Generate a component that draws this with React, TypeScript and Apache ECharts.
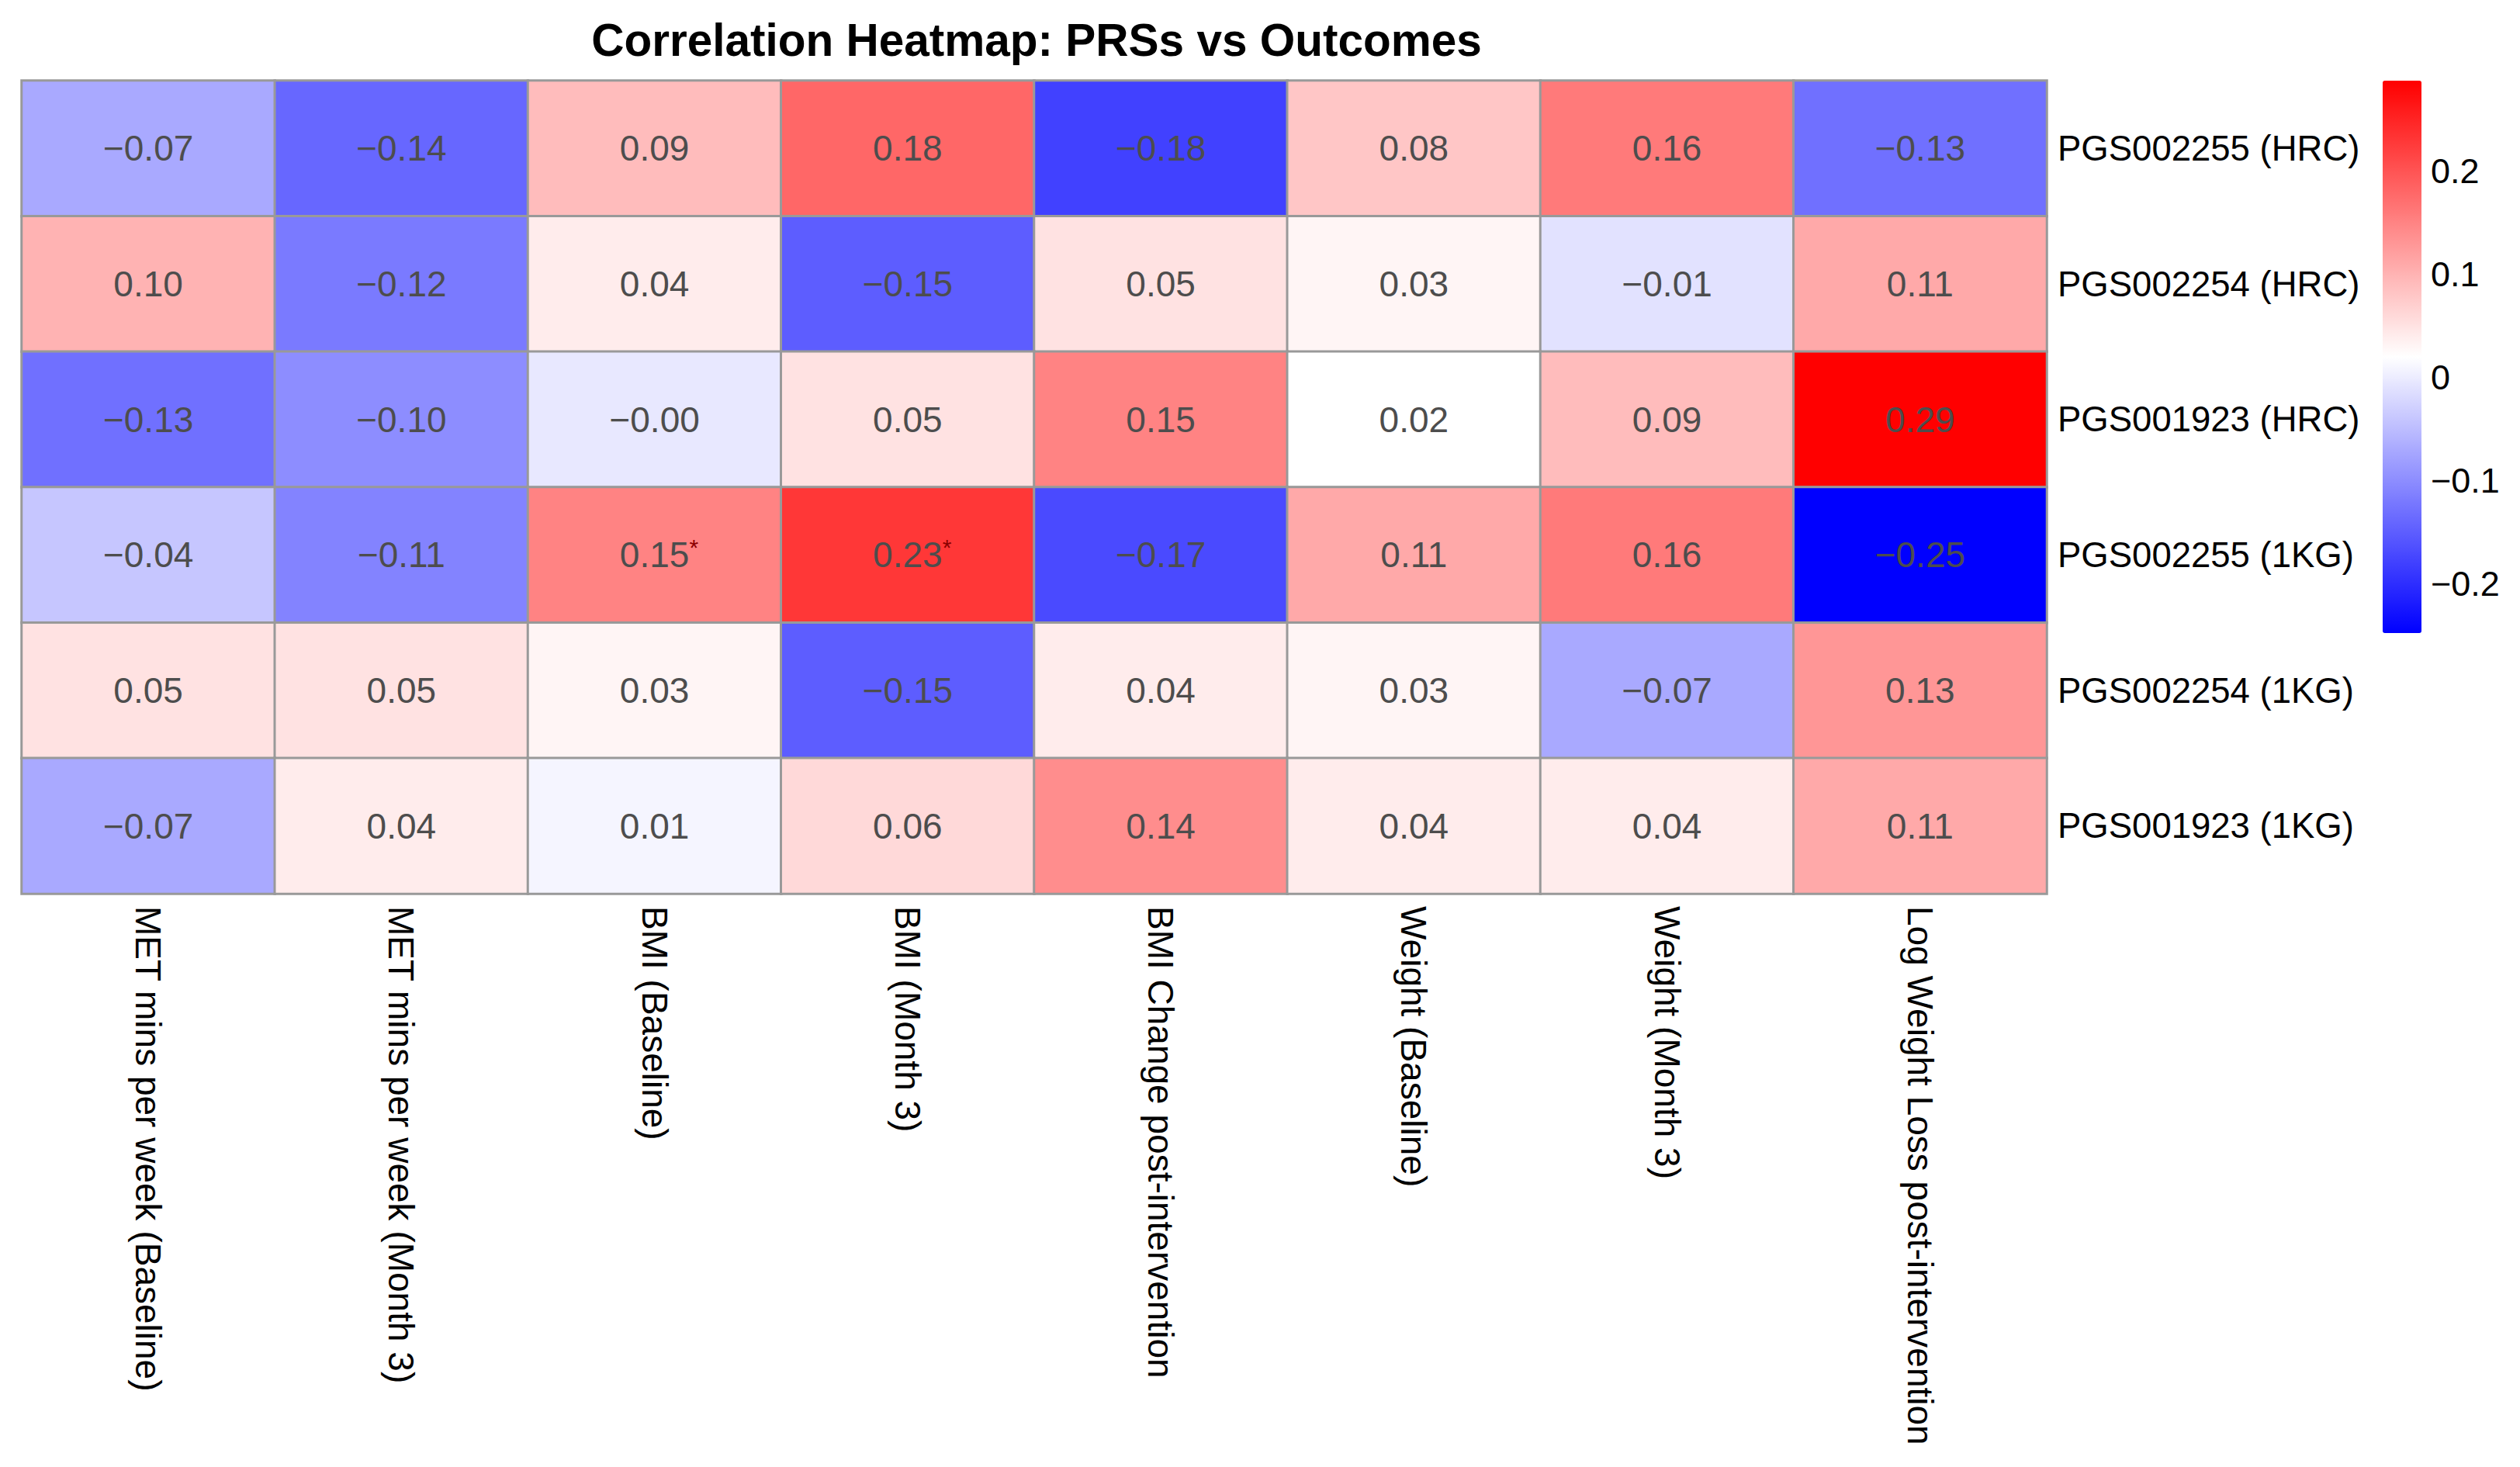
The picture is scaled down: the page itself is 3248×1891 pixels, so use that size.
import React, { useEffect, useRef } from "react";
import * as echarts from "echarts";

const outcomes = [
  "MET mins per week (Baseline)",
  "MET mins per week (Month 3)",
  "BMI (Baseline)",
  "BMI (Month 3)",
  "BMI Change post-intervention",
  "Weight (Baseline)",
  "Weight (Month 3)",
  "Log Weight Loss post-intervention",
];

const scores = [
  "PGS002255 (HRC)",
  "PGS002254 (HRC)",
  "PGS001923 (HRC)",
  "PGS002255 (1KG)",
  "PGS002254 (1KG)",
  "PGS001923 (1KG)",
];

const rowHRC2255 = [-0.07, -0.14, 0.09, 0.18, -0.18, 0.08, 0.16, -0.13];
const rowHRC2254 = [0.1, -0.12, 0.04, -0.15, 0.05, 0.03, -0.01, 0.11];
const rowHRC1923 = [-0.13, -0.1, -0.004, 0.05, 0.15, 0.02, 0.09, 0.288];
const row1KG2255 = [-0.04, -0.11, 0.15, 0.23, -0.17, 0.11, 0.16, -0.248];
const row1KG2254 = [0.05, 0.05, 0.03, -0.15, 0.04, 0.03, -0.07, 0.13];
const row1KG1923 = [-0.07, 0.04, 0.01, 0.06, 0.14, 0.04, 0.04, 0.11];

const matrix = [rowHRC2255, rowHRC2254, rowHRC1923, row1KG2255, row1KG2254, row1KG1923];

// significance markers: [rowIndex, colIndex]
const significant = [
  [3, 2],
  [3, 3],
];

const legendTicks = [-0.2, -0.1, 0, 0.1, 0.2];

const FONT = "'Liberation Sans', Arial, Helvetica, sans-serif";

const fmt = (v: number, d: number) => v.toFixed(d).replace("-", "\u2212");

export default function App() {
  const ref = useRef<HTMLDivElement>(null);

  useEffect(() => {
    if (!ref.current) return;
    const chart = echarts.init(ref.current, null, { renderer: "svg" });

    const data: any[] = [];
    matrix.forEach((row, r) => {
      row.forEach((v, c) => {
        const sig = significant.some(([sr, sc]) => sr === r && sc === c);
        data.push({ value: [c, r, v], sig });
      });
    });
    const all = matrix.flat();
    const vmin = Math.min(...all);
    const vmax = Math.max(...all);

    chart.setOption({
      animation: false,
      backgroundColor: "#ffffff",
      title: {
        text: "Correlation Heatmap: PRSs vs Outcomes",
        left: 1331,
        textAlign: "center",
        top: 17,
        textStyle: { fontFamily: FONT, fontSize: 58.5, fontWeight: "bold", color: "#000000" },
      },
      grid: [
        { left: 28, top: 104, width: 2610, height: 1048 },
        { left: 3071, top: 104, width: 50, height: 712 },
      ],
      xAxis: [
        {
          type: "category",
          data: outcomes,
          gridIndex: 0,
          position: "bottom",
          axisLine: { show: false },
          axisTick: { show: false },
          splitLine: { show: false },
          axisLabel: {
            rotate: -90,
            margin: 16,
            interval: 0,
            fontFamily: FONT,
            fontSize: 46,
            color: "#000000",
          },
        },
        { type: "value", gridIndex: 1, show: false, min: 0, max: 1 },
      ],
      yAxis: [
        {
          type: "category",
          data: scores,
          gridIndex: 0,
          inverse: true,
          position: "right",
          axisLine: { show: false },
          axisTick: { show: false },
          splitLine: { show: false },
          axisLabel: {
            margin: 14,
            fontFamily: FONT,
            fontSize: 45.5,
            color: "#000000",
          },
        },
        {
          type: "value",
          gridIndex: 1,
          position: "right",
          min: vmin,
          max: vmax,
          axisLine: { show: false },
          axisTick: { show: false },
          splitLine: { show: false },
          axisLabel: {
            customValues: legendTicks,
            margin: 12,
            fontFamily: FONT,
            fontSize: 45,
            color: "#000000",
            formatter: (v: number) => (Math.abs(v) < 1e-9 ? "0" : fmt(v, 1)),
          },
        },
      ],
      visualMap: {
        type: "continuous",
        min: vmin,
        max: vmax,
        seriesIndex: 0,
        dimension: 2,
        calculable: false,
        show: true,
        left: 3071,
        top: 104,
        padding: 0,
        itemWidth: 50,
        itemHeight: 712,
        orient: "vertical",
        inRange: { color: ["#0000FF", "#FFFFFF", "#FF0000"] },
      },
      series: [
        {
          type: "heatmap",
          xAxisIndex: 0,
          yAxisIndex: 0,
          data,
          itemStyle: { borderColor: "#999999", borderWidth: 3 },
          label: {
            show: true,
            fontFamily: FONT,
            fontSize: 46,
            color: "#4D4D4D",
            formatter: (p: any) => {
              const t = fmt(p.value[2], 2);
              return p.data.sig ? `{h|*}{v|${t}}{s|*}` : `{v|${t}}`;
            },
            rich: {
              v: { fontFamily: FONT, fontSize: 46, color: "#4D4D4D", lineHeight: 50 },
              s: { fontFamily: FONT, fontSize: 30, color: "#8B0000", verticalAlign: "top", lineHeight: 50 },
              h: { fontFamily: FONT, fontSize: 30, color: "transparent", verticalAlign: "top", lineHeight: 50 },
            },
          },
          emphasis: { disabled: true },
        },
      ],
    });

    return () => chart.dispose();
  }, []);

  return (
    <div
      ref={ref}
      style={{ position: "fixed", left: 0, top: 0, width: 3248, height: 1891, background: "#fff" }}
    />
  );
}
